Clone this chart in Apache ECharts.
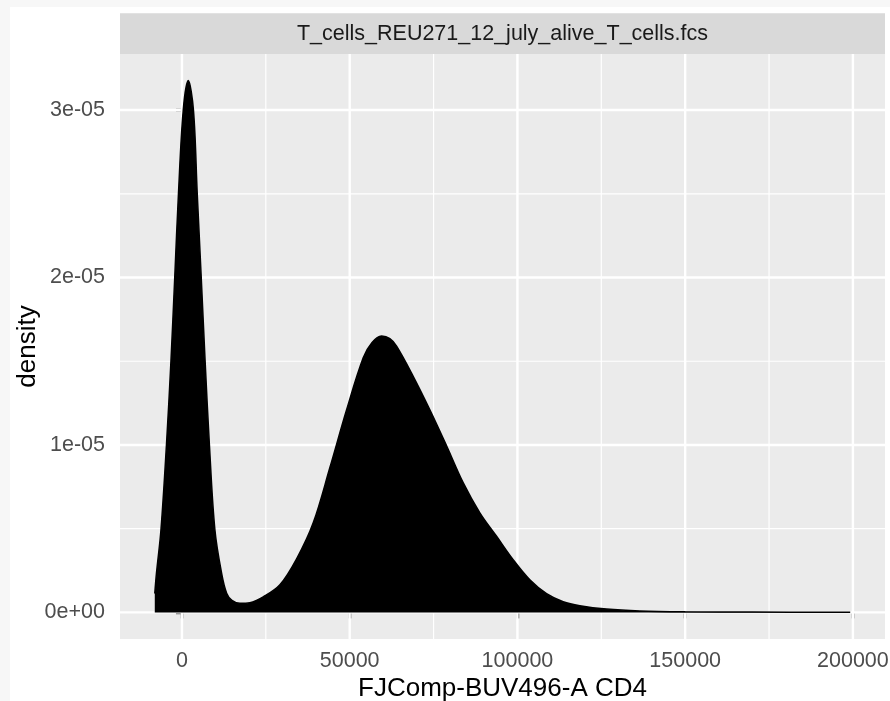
<!DOCTYPE html>
<html>
<head>
<meta charset="utf-8">
<script src="https://cdn.jsdelivr.net/npm/echarts@6/dist/echarts.min.js"></script>
<style>
  html, body { margin: 0; padding: 0; background: #f7f7f7; }
  #chart { position: absolute; left: 10px; top: 7px; width: 880px; height: 694px; background: #ffffff; }
</style>
</head>
<body>
<div id="chart"></div>
<script>
// density curve
const densityX = [-8100, -7600, -6260, -4620, -3280, -2150, -1040, 390, 1880, 3430, 4560, 5750, 6910, 8190,
  9830, 11830, 13320, 14900, 17280, 20260, 24230, 29200, 34180, 39130, 44100, 49080, 54030, 56620, 59510,
  61980, 63980, 68930, 73900, 78880, 83820, 88800, 93780, 98730, 103700, 108680, 113630, 118600,
  126560, 136480, 150000, 170000, 199200]
const densityY = [1.13e-6, 2.33e-6, 4.92e-6, 10e-6, 15e-6, 20e-6, 25e-6, 30e-6, 31.76e-6, 30e-6, 25e-6, 20e-6, 15e-6, 10e-6,
  4.92e-6, 2.33e-6, 1.15e-6, 0.72e-6, 0.54e-6, 0.58e-6, 0.93e-6, 1.65e-6, 3.2e-6, 5.35e-6, 8.65e-6, 12.1e-6, 15.2e-6, 16.1e-6, 16.5e-6,
  16.35e-6, 15.9e-6, 14.1e-6, 12.1e-6, 9.95e-6, 7.75e-6, 5.95e-6, 4.55e-6, 3.15e-6, 1.95e-6, 1.12e-6, 0.64e-6, 0.4e-6,
  0.2e-6, 0.09e-6, 0.04e-6, 0.02e-6, 0.01e-6]

const xTicks = [0, 50000, 100000, 150000, 200000]
const xMinor = [-25000, 25000, 75000, 125000, 175000]
const yTicks = [0, 1e-5, 2e-5, 3e-5]
const yTickLabels = ['0e+00', '1e-05', '2e-05', '3e-05']
const yMinor = [5e-6, 1.5e-5, 2.5e-5]

const stripTitle = 'T_cells_REU271_12_july_alive_T_cells.fcs'
const xTitle = 'FJComp-BUV496-A CD4'
const yTitle = 'density'

const FONT = '"Liberation Sans", Arial, sans-serif'

// ggplot style 5% expansion
const xLo = Math.min(...densityX), xHi = Math.max(...densityX)
const yHi = Math.max(...densityY)
const xPad = (xHi - xLo) * 0.05
const yPad = yHi * 0.05
const xMin = xLo - xPad, xMax = xHi + xPad
const yMin = -yPad, yMax = yHi + yPad

const chart = echarts.init(document.getElementById('chart'))

// panel grid lines as plain line series so they sit on the tick values, under the density
const gridSeries = []
const addGrid = (pts, w) => gridSeries.push({
  type: 'line', data: pts, silent: true, z: 1, showSymbol: false,
  lineStyle: { color: '#ffffff', width: w }, emphasis: { disabled: true }
})
xMinor.forEach(v => addGrid([[v, yMin], [v, yMax]], 1.2))
yMinor.forEach(v => addGrid([[xMin, v], [xMax, v]], 1.2))
xTicks.forEach(v => addGrid([[v, yMin], [v, yMax]], 2.4))
yTicks.forEach(v => addGrid([[xMin, v], [xMax, v]], 2.4))

const option = {
  animation: false,
  grid: {
    left: 110, right: 5, top: 47, bottom: 62,
    outerBoundsMode: 'none',
    containLabel: false,
    show: true, backgroundColor: '#ebebeb', borderWidth: 0
  },
  graphic: [
    {
      type: 'rect', shape: { x: 110, y: 6.3, width: 765, height: 40.7 },
      style: { fill: '#d9d9d9' }, silent: true
    },
    {
      type: 'text', x: 492.5, y: 27, silent: true,
      style: { text: stripTitle, fill: '#1a1a1a', font: '21.5px ' + FONT, textAlign: 'center', textVerticalAlign: 'middle' }
    }
  ],
  xAxis: {
    type: 'value',
    min: xMin,
    max: xMax,
    splitLine: { show: false },
    axisLine: { show: false },
    axisTick: { show: true, customValues: xTicks, length: 6, lineStyle: { color: '#333333', width: 2.4 } },
    axisLabel: {
      customValues: xTicks, margin: 12, color: '#4d4d4d', fontSize: 21.5, fontFamily: FONT, lineHeight: 21,
      formatter: v => String(Math.round(v))
    },
    name: xTitle,
    nameLocation: 'middle',
    nameGap: 36.5,
    nameMoveOverlap: false,
    nameTextStyle: { color: '#000000', fontSize: 26, fontFamily: FONT, lineHeight: 26 }
  },
  yAxis: {
    type: 'value',
    min: yMin,
    max: yMax,
    splitLine: { show: false },
    axisLine: { show: false },
    axisTick: { show: true, customValues: yTicks, length: 6, lineStyle: { color: '#333333', width: 2.4 } },
    axisLabel: {
      customValues: yTicks, margin: 15, color: '#4d4d4d', fontSize: 21.5, fontFamily: FONT,
      formatter: v => {
        let best = 0
        yTicks.forEach((t, i) => { if (Math.abs(t - v) < Math.abs(yTicks[best] - v)) best = i })
        return yTickLabels[best]
      }
    },
    name: yTitle,
    nameLocation: 'middle',
    nameGap: 79,
    nameMoveOverlap: false,
    nameTextStyle: { color: '#000000', fontSize: 26, fontFamily: FONT, lineHeight: 26 }
  },
  series: gridSeries.concat([
    {
      type: 'line',
      z: 3,
      data: densityX.map((x, i) => [x, densityY[i]]),
      smooth: 0.35,
      showSymbol: false,
      lineStyle: { color: '#000000', width: 1.5 },
      areaStyle: { color: '#000000', opacity: 1 }
    }
  ])
}
chart.setOption(option)
</script>
</body>
</html>
